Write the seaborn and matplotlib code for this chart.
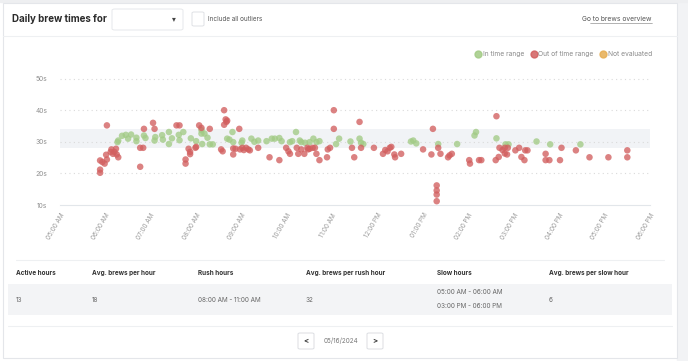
import pandas as pd
import matplotlib
matplotlib.use("Agg")
import matplotlib.pyplot as plt
import matplotlib.dates as mdates
from matplotlib.patches import Rectangle, FancyBboxPatch
from matplotlib.lines import Line2D
import seaborn as sns

# brews inside the expected time window
in_times = ["06:16", "06:17", "06:22", "06:27", "06:30", "06:34", "06:41", "06:41", "06:51", "06:53",
            "07:06", "07:05", "07:15", "07:16", "07:24", "07:24", "07:28", "07:37", "07:38", "07:43",
            "07:53", "08:00", "08:07", "08:08", "08:07", "08:11", "08:15", "08:18", "08:22", "08:41",
            "08:44", "08:48", "08:49", "09:00", "09:01", "09:13", "09:17", "09:22", "09:33", "09:40",
            "09:44", "09:50", "09:53", "10:04", "10:07", "10:12", "10:17", "10:19", "10:24", "10:30",
            "10:35", "10:39", "10:43", "11:05", "11:09", "11:24", "11:36", "11:38", "11:41", "12:44",
            "12:47", "12:51", "13:20", "13:45", "14:08", "14:10", "14:37", "14:49", "14:53", "15:30",
            "15:48", "16:28"]
in_secs = [29.9, 30.4, 31.9, 32.2, 31.0, 32.3, 31.3, 30.2, 32.0, 31.2,
           31.5, 30.4, 32.1, 30.7, 29.3, 33.1, 31.1, 32.2, 30.5, 33.1,
           31.1, 30.2, 32.6, 29.3, 33.7, 32.6, 31.3, 29.2, 29.2, 31.0,
           30.7, 33.1, 29.9, 29.7, 30.4, 31.0, 30.0, 30.4, 30.2, 31.0,
           31.0, 31.2, 30.2, 29.9, 30.2, 33.1, 30.4, 29.9, 29.7, 29.9,
           31.0, 29.9, 30.2, 29.3, 31.0, 30.1, 31.0, 29.7, 29.3, 30.1,
           30.4, 29.5, 29.3, 29.3, 32.0, 33.1, 31.1, 29.2, 29.2, 30.1,
           29.2, 29.2]

# brews outside the expected time window
out_times = ["05:53", "05:53", "05:53", "05:56", "05:59", "06:02", "06:01", "06:02", "06:07", "06:08",
             "06:10", "06:12", "06:14", "06:15", "06:17", "06:46", "06:50", "06:46", "06:51", "07:03",
             "07:05", "07:34", "07:38", "07:46", "07:46", "07:50", "07:52", "07:52", "07:59", "08:00",
             "08:04", "08:07", "08:18", "08:33", "08:35", "08:37", "08:39", "08:40", "08:41", "08:37",
             "08:49", "08:49", "08:52", "08:57", "08:58", "09:01", "09:03", "09:06", "09:09", "09:11",
             "09:22", "09:37", "09:50", "09:59", "10:02", "10:04", "10:13", "10:15", "10:19", "10:23",
             "10:27", "10:28", "10:30", "10:34", "10:37", "10:39", "10:43", "10:53", "10:54", "10:57",
             "11:02", "11:02", "11:26", "11:29", "11:36", "11:38", "11:55", "12:07", "12:10", "12:13",
             "12:16", "12:18", "12:22", "12:23", "12:31", "13:00", "13:11", "13:13", "13:20", "13:23",
             "13:33", "13:35", "13:38", "13:18", "13:18", "13:18", "13:18", "14:01", "14:02", "14:14",
             "14:17", "14:36", "14:37", "14:40", "14:41", "14:45", "14:48", "14:48", "14:51", "14:52",
             "15:02", "15:07", "15:10", "15:14", "15:15", "15:18", "15:42", "15:42", "15:47", "16:01",
             "16:03", "16:22", "16:40", "17:05", "17:30", "17:30"]
out_secs = [20.2, 21.2, 24.1, 23.6, 23.1, 24.4, 25.9, 35.2, 26.8, 27.6,
            26.2, 26.8, 27.8, 26.0, 25.1, 28.1, 28.1, 22.1, 34.1, 36.0,
            34.1, 35.2, 35.2, 24.4, 23.1, 27.8, 26.1, 26.8, 28.1, 28.4,
            35.2, 34.4, 34.1, 27.6, 27.0, 40.0, 37.1, 36.3, 36.7, 35.4,
            27.9, 26.0, 27.8, 34.1, 27.6, 28.1, 27.4, 28.1, 27.6, 27.3,
            28.1, 25.1, 24.2, 28.1, 27.0, 26.2, 28.1, 26.2, 27.6, 26.2,
            28.1, 27.6, 27.8, 28.1, 28.1, 26.2, 24.2, 25.1, 27.6, 28.1,
            40.0, 34.1, 28.1, 25.1, 36.3, 28.1, 28.1, 26.2, 27.4, 27.0,
            28.1, 28.4, 26.0, 25.1, 26.2, 27.6, 26.0, 34.1, 28.1, 26.2,
            25.1, 25.7, 26.2, 16.2, 14.6, 13.3, 11.2, 24.2, 23.1, 24.2,
            24.2, 24.2, 38.1, 25.2, 28.1, 27.4, 26.3, 28.1, 26.0, 28.1,
            27.3, 28.1, 25.2, 24.2, 27.3, 27.3, 26.2, 24.2, 24.2, 24.2,
            28.1, 27.3, 25.1, 25.1, 27.3, 25.1]

status_labels = ["In time range", "Out of time range", "Not evaluated"]
status_colors = ["#a2cb85", "#d25f5f", "#e6ad52"]
target_low, target_high = 28, 34
day = "2024-05-16"

table_headers = ["Active hours", "Avg. brews per hour", "Rush hours",
                 "Avg. brews per rush hour", "Slow hours", "Avg. brews per slow hour"]
table_values = ["13", "18", "08:00 AM - 11:00 AM", "32",
                "05:00 AM - 06:00 AM\n03:00 PM - 06:00 PM", "6"]

df = pd.DataFrame({
    "time": pd.to_datetime([f"{day} {t}" for t in in_times + out_times]),
    "secs": in_secs + out_secs,
    "status": [status_labels[0]] * len(in_times) + [status_labels[1]] * len(out_times),
})

sns.set_style("white")
plt.rcParams["font.family"] = ["Inter", "DejaVu Sans"]

W, H = 688, 361
fig = plt.figure(figsize=(W / 100, H / 100), dpi=100)


def fx(x):
    return x / W


def fy(y):
    return 1 - y / H


# card + page chrome
fig.add_artist(Rectangle((fx(677), 0), fx(11), 1, transform=fig.transFigure, color="#f2f3f5", zorder=0))
fig.add_artist(Rectangle((0, fy(2)), 1, fx(2) * W / H, transform=fig.transFigure, color="#eeeff1", zorder=0))
fig.add_artist(Rectangle((fx(3), fy(358)), fx(674), (358 - 3) / H, transform=fig.transFigure,
                         facecolor="white", edgecolor="#e4e6ea", lw=0.8, zorder=0))

# header
fig.text(fx(12), fy(19), "Daily brew times for", fontsize=7, fontweight="bold", color="#2b2b2b", va="center")
fig.add_artist(FancyBboxPatch((fx(112), fy(30)), fx(71), 21 / H, boxstyle="round,pad=0,rounding_size=0.004",
                              transform=fig.transFigure, facecolor="white", edgecolor="#e6e8eb", lw=0.7))
fig.text(fx(174), fy(19), "▾", fontsize=5.5, color="#444", ha="center", va="center")
fig.add_artist(FancyBboxPatch((fx(192), fy(26)), fx(12), 14 / H, boxstyle="round,pad=0,rounding_size=0.003",
                              transform=fig.transFigure, facecolor="white", edgecolor="#dfe1e5", lw=0.7))
fig.text(fx(208), fy(19), "Include all outliers", fontsize=4.6, color="#555", va="center")
fig.text(fx(652), fy(19), "Go to brews overview", fontsize=4.8, color="#555", va="center", ha="right")
fig.add_artist(Line2D([fx(590), fx(652)], [fy(22.5), fy(22.5)], transform=fig.transFigure, color="#777", lw=0.4))
fig.add_artist(Line2D([fx(3), fx(677)], [fy(36), fy(36)], transform=fig.transFigure, color="#eef0f2", lw=0.8))

# scatter
ax = fig.add_axes([fx(60), fy(205), fx(590), (205 - 72.3) / H])
ax.axhspan(target_low, target_high, color="#f1f3f6", lw=0, zorder=0)
for v in [20, 30, 40, 50]:
    ax.axhline(v, color="#dadada", lw=0.8, ls=(0, (1, 3)), zorder=0.5)
sns.scatterplot(data=df, x="time", y="secs", hue="status", hue_order=status_labels,
                palette=dict(zip(status_labels, status_colors)), s=22, alpha=0.78,
                linewidth=0, legend=False, ax=ax, zorder=2)

ax.set_xlim(pd.Timestamp(f"{day} 05:00"), pd.Timestamp(f"{day} 18:00"))
ax.set_ylim(10, 52)
ax.set_yticks([10, 20, 30, 40, 50])
ax.set_yticklabels([f"{v}s" for v in [10, 20, 30, 40, 50]])
ax.xaxis.set_major_locator(mdates.HourLocator())
ax.xaxis.set_major_formatter(mdates.DateFormatter("%I:%M %p"))
ax.set_xlabel("")
ax.set_ylabel("")
for s in ["top", "right", "left"]:
    ax.spines[s].set_visible(False)
ax.spines["bottom"].set_color("#e2e6ea")
ax.spines["bottom"].set_linewidth(0.8)
ax.tick_params(axis="y", length=0, pad=9, labelsize=4.8, labelcolor="#8f8f8f")
ax.tick_params(axis="x", length=3, width=0.6, color="#e2e6ea", pad=2, labelsize=4.6, labelcolor="#999999")
for lbl in ax.get_xticklabels():
    lbl.set_rotation(60)
    lbl.set_ha("right")
    lbl.set_va("top")
    lbl.set_rotation_mode("anchor")
ax.patch.set_alpha(0)

handles = [Line2D([], [], marker="o", ls="", color=c, markersize=5, alpha=0.85) for c in status_colors]
fig.legend(handles, status_labels, loc="center right", bbox_to_anchor=(fx(652), fy(54)), ncol=3,
           frameon=False, fontsize=4.8, labelcolor="#8a8a8a", handletextpad=0.3, columnspacing=1.0,
           handlelength=0.8, borderaxespad=0, borderpad=0)

# stats table
fig.add_artist(Line2D([fx(16), fx(664)], [fy(260), fy(260)], transform=fig.transFigure, color="#eef0f2", lw=0.8))
fig.add_artist(Rectangle((fx(8), fy(315)), fx(664), 31 / H, transform=fig.transFigure, color="#f3f4f6", lw=0))
col_x = [16, 92, 198, 306, 437, 549]
for x, h, v in zip(col_x, table_headers, table_values):
    fig.text(fx(x), fy(273), h, fontsize=4.6, fontweight="bold", color="#333", va="center")
    fig.text(fx(x), fy(299.5), v, fontsize=4.6, color="#666", va="center", linespacing=2.6)
fig.add_artist(Line2D([fx(8), fx(672)], [fy(326), fy(326)], transform=fig.transFigure, color="#eef0f2", lw=0.8))

# pagination
for x0, glyph in [(298, "<"), (367, ">")]:
    fig.add_artist(FancyBboxPatch((fx(x0), fy(349)), fx(16), 16 / H, boxstyle="round,pad=0,rounding_size=0.003",
                                  transform=fig.transFigure, facecolor="white", edgecolor="#dcdee2", lw=0.7))
    fig.text(fx(x0 + 8), fy(341), glyph, fontsize=5.5, fontweight="bold", color="#333", ha="center", va="center")
fig.text(fx(341), fy(341), "05/16/2024", fontsize=4.6, color="#777", ha="center", va="center")

fig.savefig("out.png", dpi=100, facecolor="white")
